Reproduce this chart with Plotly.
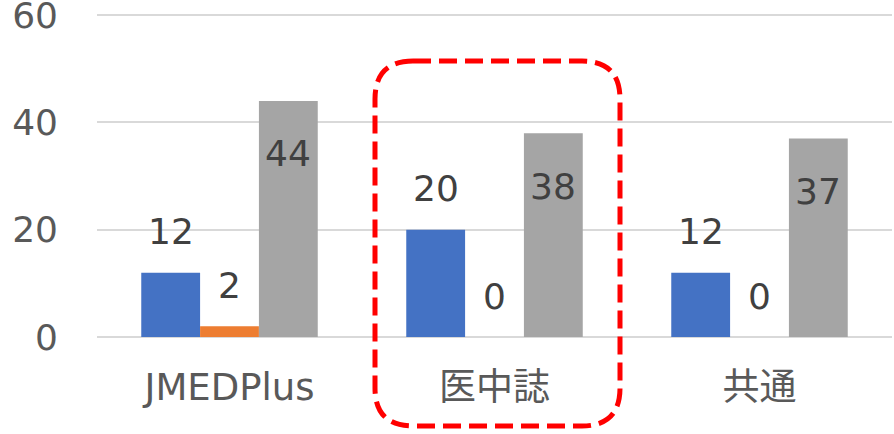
import plotly.graph_objects as go

categories = ["JMEDPlus", "医中誌", "共通"]
series_names = ["系列1", "系列2", "系列3"]
series_values = [
    [12, 20, 12],
    [2, 0, 0],
    [44, 38, 37],
]
series_colors = ["#4472C4", "#ED7D31", "#A5A5A5"]
label_inside = [False, False, True]
y_ticks = [0, 20, 40, 60]

W, H = 894, 434
Y_TOP = 60.4                      # a bit above 60 so the 60 gridline is drawn
PX_PER_UNIT = 322 / 60
ML, MR, MB = 97, 2, 97
MT = 15 - (Y_TOP - 60) * PX_PER_UNIT
PW, PH = W - ML - MR, H - MT - MB

FONT = "DejaVu Sans, Noto Sans CJK JP, sans-serif"

fig = go.Figure()
for name, vals, col in zip(series_names, series_values, series_colors):
    fig.add_trace(go.Bar(x=categories, y=vals, name=name, marker=dict(color=col, line=dict(width=0)),
                         cliponaxis=False))

# data labels
bargap = 0.334
bw = (1 - bargap) / len(series_values)
for si, (vals, inside) in enumerate(zip(series_values, label_inside)):
    off = (si - (len(series_values) - 1) / 2) * bw
    for ci, v in enumerate(vals):
        fig.add_annotation(
            x=ci + off, y=v, xref="x", yref="y", text=str(v), showarrow=False,
            yanchor="middle", yshift=-53 if inside else 41,
            font=dict(family=FONT, size=36, color="#404040"),
        )

# red dashed rounded rectangle highlighting 医中誌
def px(x):
    return (x - ML) / PW

def py(y):
    return (MT + PH - y) / PH

x0, x1, y0, y1, r = 375, 620, 61, 426, 38
path = (
    f"M {px(x0 + r)} {py(y0)} L {px(x1 - r)} {py(y0)} "
    f"Q {px(x1)} {py(y0)} {px(x1)} {py(y0 + r)} "
    f"L {px(x1)} {py(y1 - r)} Q {px(x1)} {py(y1)} {px(x1 - r)} {py(y1)} "
    f"L {px(x0 + r)} {py(y1)} Q {px(x0)} {py(y1)} {px(x0)} {py(y1 - r)} "
    f"L {px(x0)} {py(y0 + r)} Q {px(x0)} {py(y0)} {px(x0 + r)} {py(y0)} Z"
)
fig.add_shape(type="path", path=path, xref="paper", yref="paper",
              line=dict(color="#FF0000", width=5, dash="18px,8px"), layer="above")

fig.update_layout(
    width=W, height=H,
    margin=dict(l=ML, r=MR, t=MT, b=MB, autoexpand=False),
    barmode="group", bargap=bargap, bargroupgap=0,
    plot_bgcolor="white", paper_bgcolor="white",
    showlegend=False,
    font=dict(family=FONT, color="#595959"),
    xaxis=dict(
        tickfont=dict(size=37, color="#595959", family=FONT),
        ticklabelstandoff=25, showgrid=False, showline=False, zeroline=False,
        automargin=False,
    ),
    yaxis=dict(
        range=[0, Y_TOP], tickvals=y_ticks,
        tickfont=dict(size=36, color="#595959", family=FONT),
        ticklabelstandoff=38, ticklabeloverflow="allow",
        showgrid=True, gridcolor="#D9D9D9", gridwidth=2,
        zeroline=True, zerolinecolor="#D9D9D9", zerolinewidth=2, showline=False,
        automargin=False,
    ),
)

fig.write_html(
    "out.html",
    config={"displayModeBar": False},
    post_script="document.body.style.margin='0';document.body.style.overflow='hidden';",
)
